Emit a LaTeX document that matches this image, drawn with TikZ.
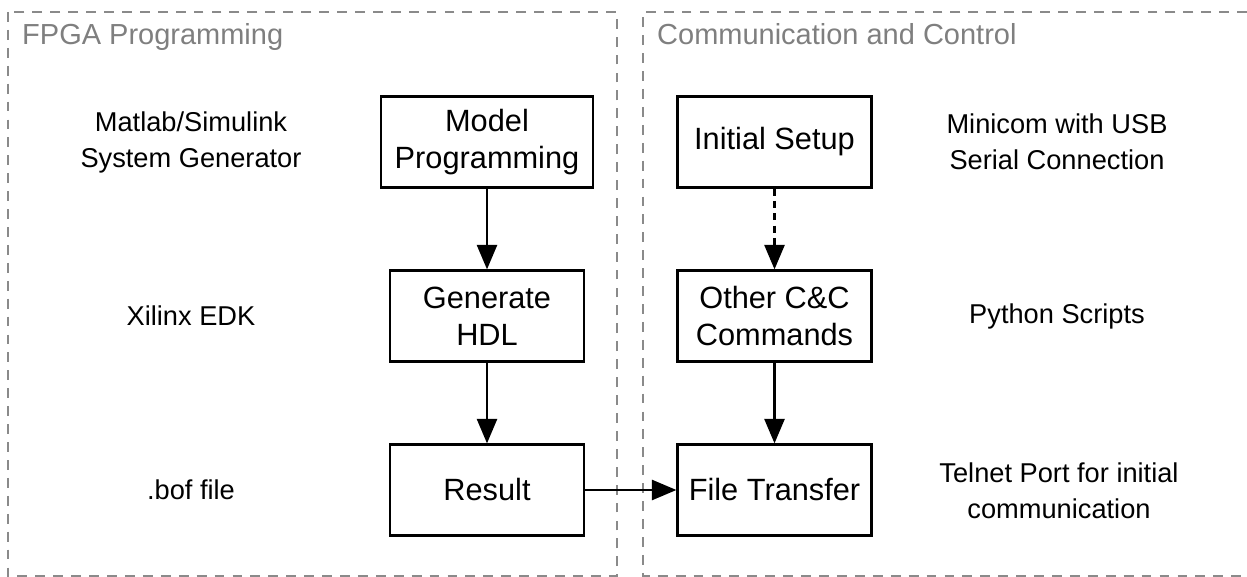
\documentclass[tikz,border=0pt]{standalone}
\usepackage{fontspec}
\setmainfont{Liberation Sans}
\usepackage{xcolor}
\usepackage{tikz}
\usetikzlibrary{arrows.meta, positioning}

\definecolor{panelgray}{HTML}{8A8A8A}
\definecolor{titlegray}{HTML}{7F7F7F}

\begin{document}
\begin{tikzpicture}[x=0.02cm, y=-0.02cm, >={Triangle[length=14pt,width=11.5pt]},
		stepbox/.style={draw, line width=1.3pt, align=center, minimum width=3.88cm, minimum height=1.82cm,
			font=\fontsize{17.5}{20.8}\selectfont},
		sidetext/.style={align=center, font=\fontsize{15.5}{20.5}\selectfont},
		paneltitle/.style={anchor=base west, text=titlegray, font=\fontsize{16.5}{20}\selectfont},
		panel/.style={panelgray, line width=1.1pt, dash pattern=on 5.6pt off 4.6pt},
		flow/.style={->, line width=1.3pt}]
	\useasboundingbox (0,0) rectangle (1247,577);
	% panels
	\draw[panel] (8,12) rectangle (617,576);
	\draw[panel] (1247,12) -- (643,12) -- (643,576) -- (1247,576);
	\node[paneltitle] (fpgatitle) at (16,45) {FPGA Programming};
	\node[paneltitle] (commtitle) at (651,45) {Communication and Control};
	% left column
	\node[stepbox, minimum width=4.24cm] (model) at (487,142) {Model\\Programming};
	\node[stepbox] (gen) at (487,316) {Generate\\HDL};
	\node[stepbox] (result) at (487,490) {Result};
	% right column
	\node[stepbox] (setup) at (774.5,142) {Initial Setup};
	\node[stepbox] (other) at (774.5,316) {Other C\&C\\Commands};
	\node[stepbox] (transfer) at (774.5,490) {File Transfer};
	% side labels
	\node[sidetext] (matlab) at (191,142) {Matlab/Simulink\\System Generator};
	\node[sidetext] (xilinx) at (191,316) {Xilinx EDK};
	\node[sidetext] (bof) at (191,490) {.bof file};
	\node[sidetext] (minicom) at (1057,142) {Minicom with USB\\Serial Connection};
	\node[sidetext] (python) at (1057,316) {Python Scripts};
	\node[sidetext] (telnet) at (1059,491) {Telnet Port for initial\\communication};
	% connectors
	\draw[flow] (model) -- (gen);
	\draw[flow] (gen) -- (result);
	\draw[flow, dash pattern=on 4pt off 3pt] (setup) -- (other);
	\draw[flow] (other) -- (transfer);
	\draw[flow] (result) -- (transfer);
\end{tikzpicture}
\end{document}
